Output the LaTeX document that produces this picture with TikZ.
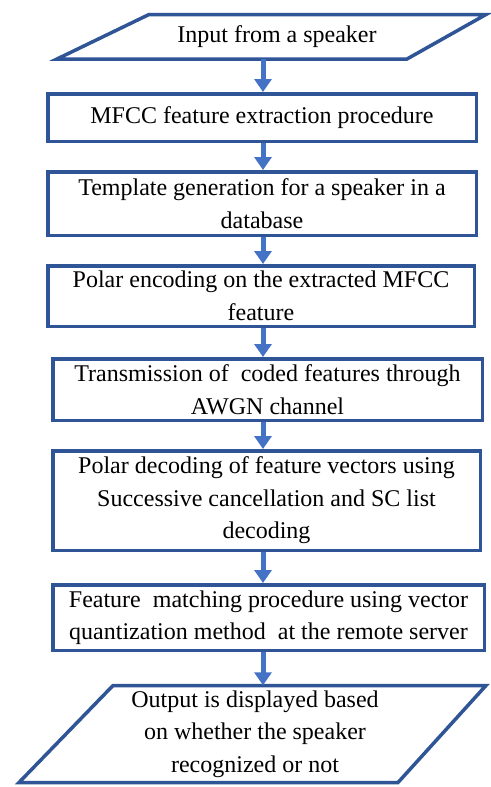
\documentclass[tikz,border=0pt]{standalone}
\usepackage{fontspec}
\newfontfamily\tnr{Liberation Serif}
\usetikzlibrary{arrows.meta}
\definecolor{boxblue}{RGB}{47,85,151}
\definecolor{arrblue}{RGB}{68,114,196}
\begin{document}
\begin{tikzpicture}[x=1pt,y=-1pt,
  txt/.style={align=center, inner sep=0pt, font=\tnr\fontsize{24}{32.5}\selectfont, text=black},
  stepbox/.style={txt, draw=boxblue, line width=3.5pt, fill=white},
  shapeline/.style={draw=boxblue, line width=3.5pt, line join=miter},
  flow/.style={draw=arrblue, line width=5pt, -{Triangle[width=17pt,length=13pt]}}]
\useasboundingbox (0,0) rectangle (490,787);
\fill[white] (0,0) rectangle (490,787);
\coordinate (ax) at (263,0);
% input parallelogram
\draw[shapeline] (149,14.5) -- (486,14.5) -- (407,59) -- (57,59) -- cycle;
\node[txt, minimum height=44.5pt] (in) at (277,36.75) {Input from a speaker};
% process boxes
\node[stepbox, minimum width=428.5pt, minimum height=47.5pt] (b1) at (262,117.5) {MFCC feature extraction procedure};
\node[stepbox, minimum width=428.5pt, minimum height=63.5pt] (b2) at (262,203.5) {Template generation for a speaker in a\\database};
\node[stepbox, minimum width=426.5pt, minimum height=60.5pt] (b3) at (261,296) {Polar encoding on the extracted MFCC\\feature};
\node[stepbox, minimum width=429.5pt, minimum height=61.5pt] (b4) at (267.5,389.5) {Transmission of\ \ coded features through\\AWGN channel};
\node[stepbox, minimum width=427.5pt, minimum height=99.5pt] (b5) at (266.5,500.5) {Polar decoding of feature vectors using\\Successive cancellation and SC list\\decoding};
\node[stepbox, minimum width=431.5pt, minimum height=65.5pt] (b6) at (268.5,617.5) {Feature\ \ matching procedure using vector\\quantization method\ \ at the remote server};
% output parallelogram
\draw[shapeline] (113,685.5) -- (486,685.5) -- (398,782.5) -- (19,782.5) -- cycle;
\node[txt, minimum height=97pt] (out) at (255,734) {Output is displayed based\\on whether the speaker\\recognized or not};
% connectors
\draw[flow] (in.south -| ax) -- (b1.north -| ax);
\draw[flow] (b1.south -| ax) -- (b2.north -| ax);
\draw[flow] (b2.south -| ax) -- (b3.north -| ax);
\draw[flow] (b3.south -| ax) -- (b4.north -| ax);
\draw[flow] (b4.south -| ax) -- (b5.north -| ax);
\draw[flow] (b5.south -| ax) -- (b6.north -| ax);
\draw[flow] (b6.south -| ax) -- (out.north -| ax);
\end{tikzpicture}
\end{document}
